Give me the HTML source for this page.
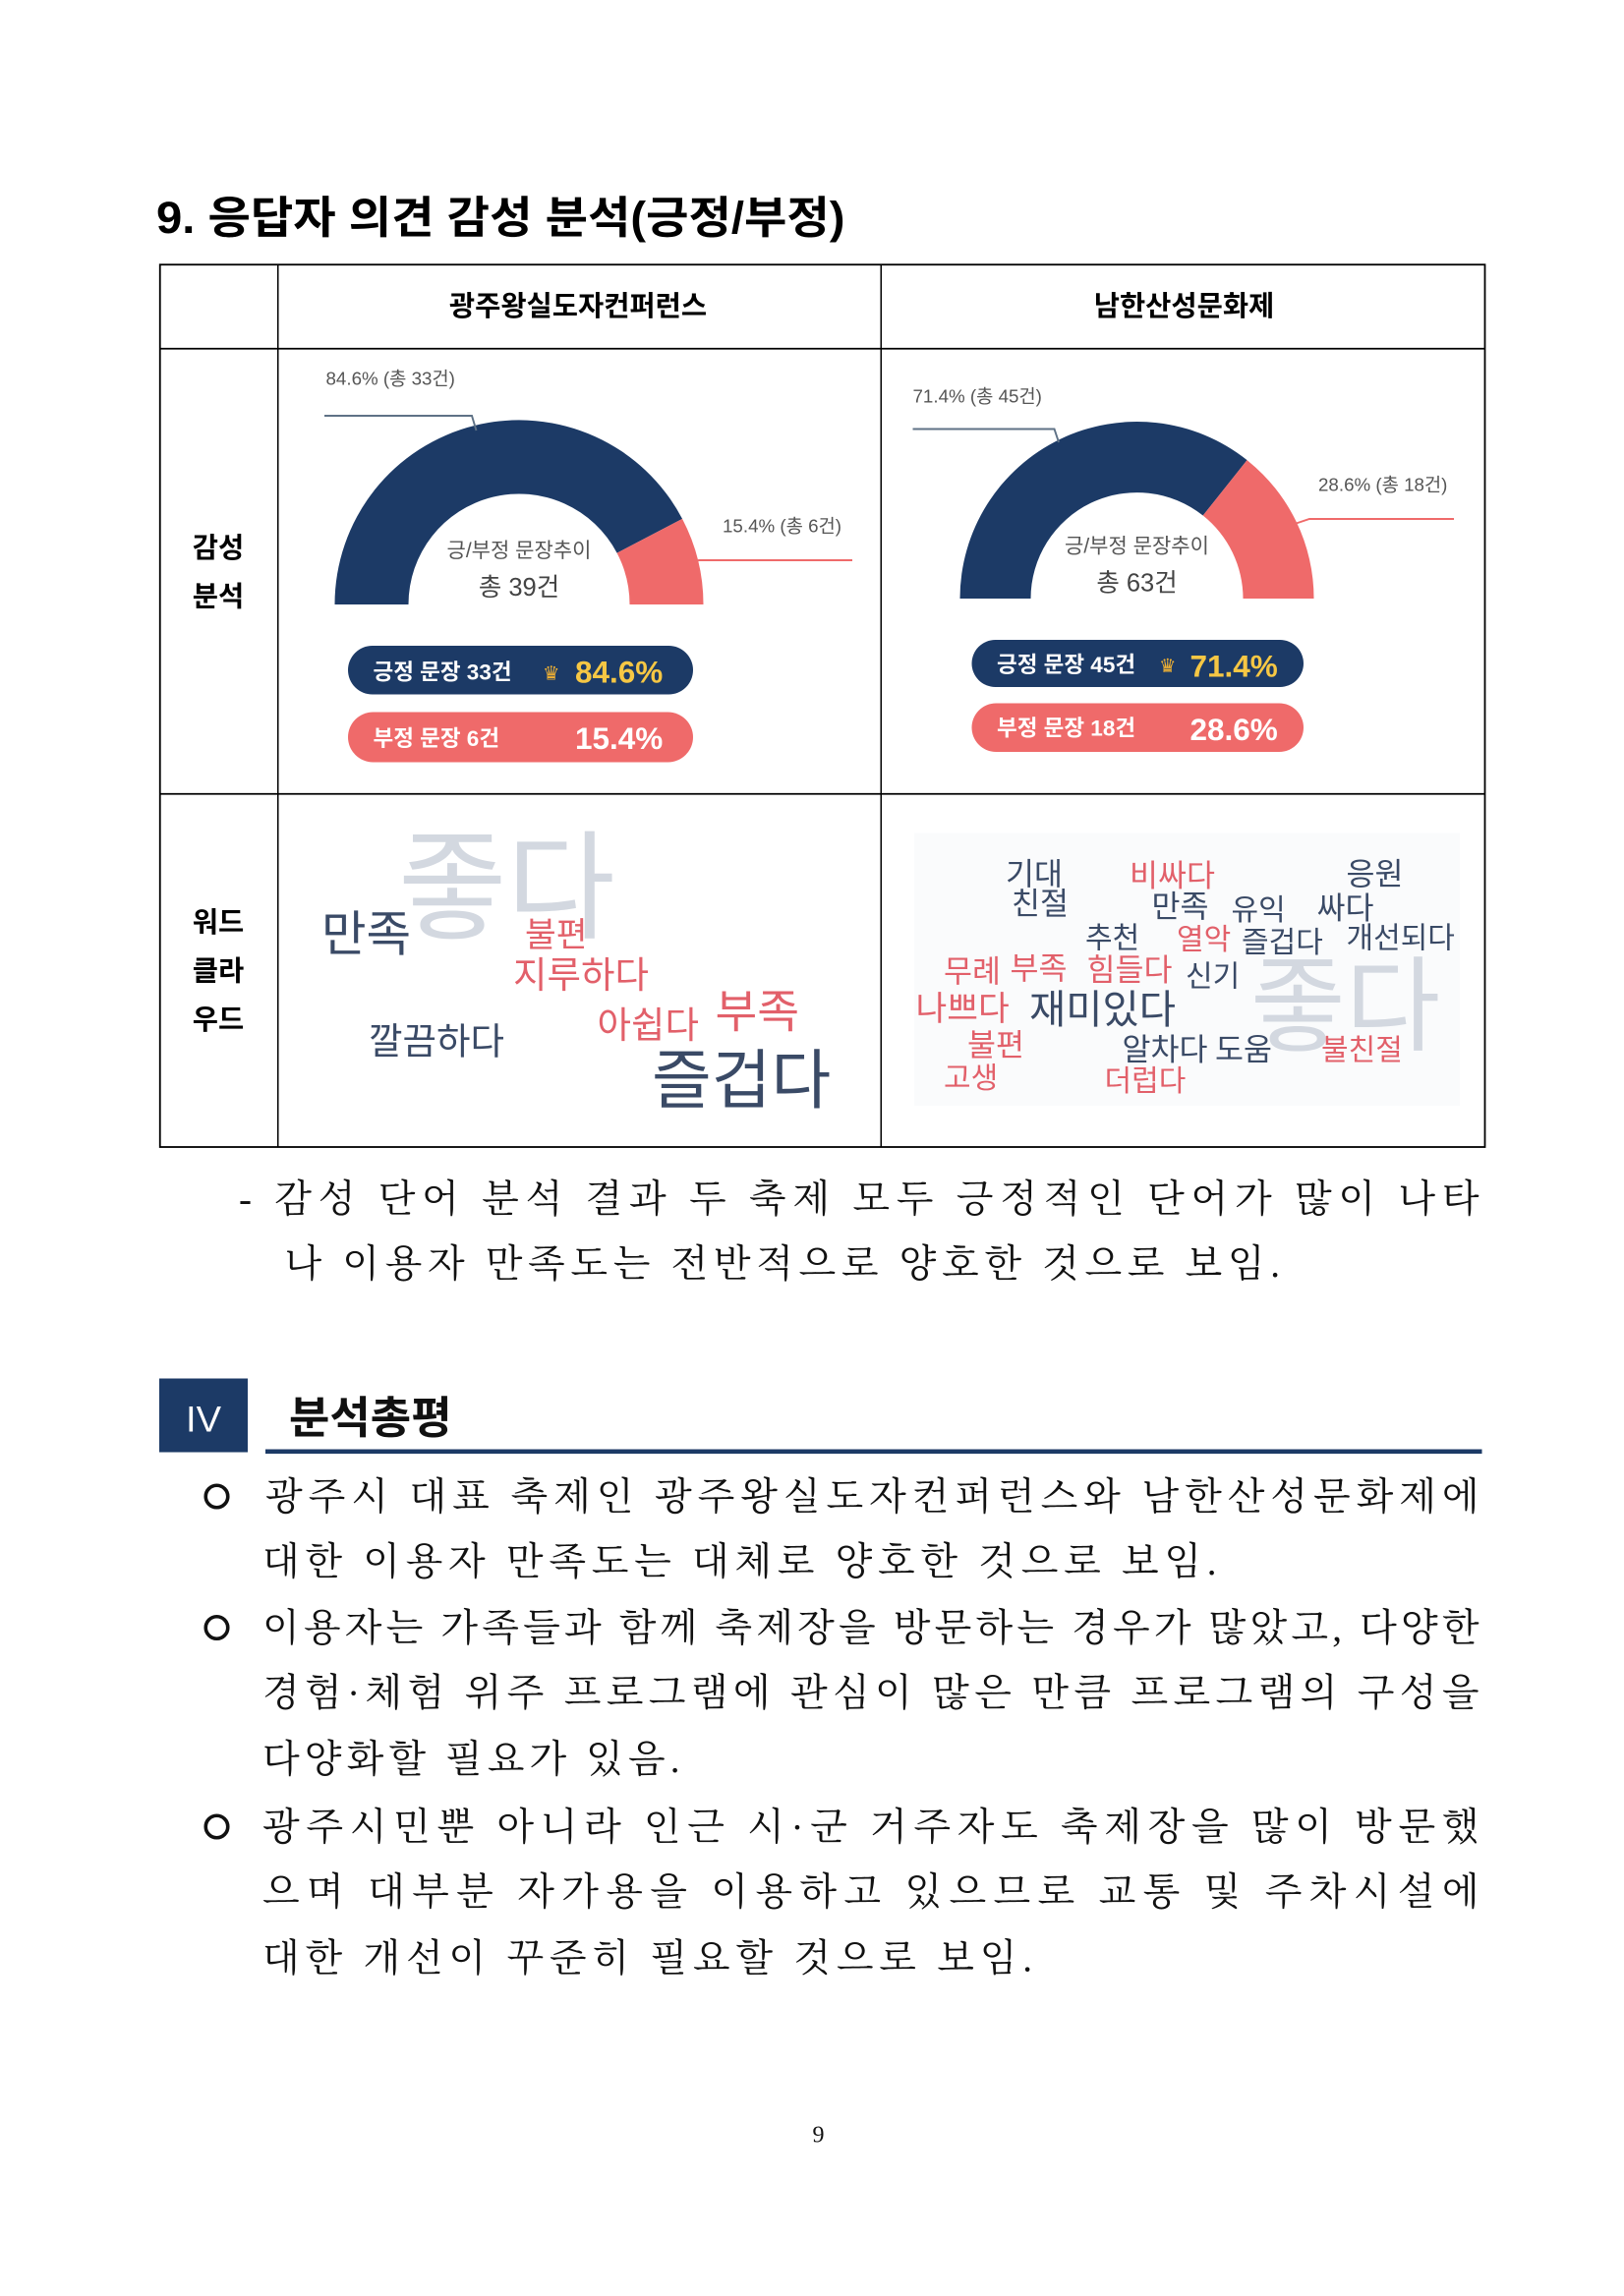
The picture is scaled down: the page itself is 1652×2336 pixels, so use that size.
<!DOCTYPE html>
<html><head><meta charset="utf-8"><style>html,body{margin:0;padding:0;background:#fff}svg{display:block}</style></head>
<body>
<svg width="1652" height="2336" viewBox="0 0 1101.33 1557.33" xmlns="http://www.w3.org/2000/svg">
<g font-family="'Liberation Sans','Noto Sans CJK KR',sans-serif">
<text x="106" y="158" font-size="30" font-weight="bold" textLength="467" lengthAdjust="spacingAndGlyphs">9. 응답자 의견 감성 분석(긍정/부정)</text>
<g stroke="#000" fill="none">
<rect x="108.5" y="179.5" width="898.5" height="598.5" stroke-width="1.2"/>
<line x1="188.5" y1="179" x2="188.5" y2="778" stroke-width="1"/>
<line x1="597.5" y1="179" x2="597.5" y2="778" stroke-width="1"/>
<line x1="108" y1="236.5" x2="1007" y2="236.5" stroke-width="1.2"/>
<line x1="108" y1="538.5" x2="1007" y2="538.5" stroke-width="1.2"/>
</g>
<text x="392" y="214" font-size="19" font-weight="bold" text-anchor="middle">광주왕실도자컨퍼런스</text>
<text x="803" y="214" font-size="19" font-weight="bold" text-anchor="middle">남한산성문화제</text>
<text x="148" y="378" font-size="19" font-weight="bold" text-anchor="middle">감성</text>
<text x="148" y="411" font-size="19" font-weight="bold" text-anchor="middle">분석</text>
<text x="148" y="632" font-size="19" font-weight="bold" text-anchor="middle">워드</text>
<text x="148" y="665" font-size="19" font-weight="bold" text-anchor="middle">클라</text>
<text x="148" y="698" font-size="19" font-weight="bold" text-anchor="middle">우드</text>

<path d="M227,410 A125 125 0 0 1 462.7,351.9 L418.4,375.1 A75 75 0 0 0 277,410 Z" fill="#1c3a66"/>
<path d="M462.7,351.9 A125 125 0 0 1 477,410 L427,410 A75 75 0 0 0 418.4,375.1 Z" fill="#ef6a6a"/>
<polyline points="220,282 320,282 323,292" fill="none" stroke="#5f7286" stroke-width="1.3"/>
<polyline points="466,382 474,380 578,380" fill="none" stroke="#ef6a6a" stroke-width="1.3"/>
<text x="221" y="261" font-size="12.5" fill="#555">84.6% (총 33건)</text>
<text x="490" y="361" font-size="12.5" fill="#555">15.4% (총 6건)</text>
<text x="352" y="378" font-size="14" fill="#555" text-anchor="middle">긍/부정 문장추이</text>
<text x="352" y="404" font-size="17" fill="#444" text-anchor="middle">총 39건</text>
<rect x="236" y="438" width="234" height="33" rx="16.5" fill="#1c3a66"/>
<text x="253" y="461" font-size="15" font-weight="bold" fill="#fff">긍정 문장 33건</text>
<text x="368" y="461" font-size="13" fill="#f2b233">♛</text>
<text x="390" y="463" font-size="21" font-weight="bold" fill="#f6c744">84.6%</text>
<rect x="236" y="483" width="234" height="34" rx="17" fill="#ef6a6a"/>
<text x="253" y="506" font-size="15" font-weight="bold" fill="#fff">부정 문장 6건</text>
<text x="390" y="508" font-size="21" font-weight="bold" fill="#fff">15.4%</text>

<path d="M651,406 A120 120 0 0 1 845.7,312.1 L815.8,349.7 A72 72 0 0 0 699,406 Z" fill="#1c3a66"/>
<path d="M845.7,312.1 A120 120 0 0 1 891,406 L843,406 A72 72 0 0 0 815.8,349.7 Z" fill="#ef6a6a"/>
<polyline points="619,291 715,291 718,300" fill="none" stroke="#5f7286" stroke-width="1.3"/>
<polyline points="879,355 888,352 986,352" fill="none" stroke="#ef6a6a" stroke-width="1.3"/>
<text x="619" y="273" font-size="12.5" fill="#555">71.4% (총 45건)</text>
<text x="894" y="333" font-size="12.5" fill="#555">28.6% (총 18건)</text>
<text x="771" y="375" font-size="14" fill="#555" text-anchor="middle">긍/부정 문장추이</text>
<text x="771" y="401" font-size="17" fill="#444" text-anchor="middle">총 63건</text>
<rect x="659" y="434" width="225" height="32" rx="16" fill="#1c3a66"/>
<text x="676" y="456" font-size="15" font-weight="bold" fill="#fff">긍정 문장 45건</text>
<text x="786" y="456" font-size="13" fill="#f2b233">♛</text>
<text x="807" y="459" font-size="21" font-weight="bold" fill="#f6c744">71.4%</text>
<rect x="659" y="477" width="225" height="33" rx="16.5" fill="#ef6a6a"/>
<text x="676" y="499" font-size="15" font-weight="bold" fill="#fff">부정 문장 18건</text>
<text x="807" y="502" font-size="21" font-weight="bold" fill="#fff">28.6%</text>

<g>
<text x="270" y="630" font-size="80" fill="#d3d8e0">좋다</text>
<text x="218" y="645" font-size="33" fill="#3a4a66">만족</text>
<text x="356" y="642" font-size="23" fill="#e2606a">불편</text>
<text x="348" y="670" font-size="25" fill="#e2606a">지루하다</text>
<text x="250" y="715" font-size="25" fill="#3a4a66">깔끔하다</text>
<text x="405" y="704" font-size="25" fill="#e2606a">아쉽다</text>
<text x="485" y="697" font-size="31" fill="#e2606a">부족</text>
<text x="442" y="748" font-size="44" fill="#3a4a66">즐겁다</text>
</g>
<rect x="620" y="565" width="370" height="185" fill="#fafbfc"/>
<g>
<text x="848" y="707" font-size="70" fill="#d3d8e0">좋다</text>
<text x="682" y="600" font-size="21" fill="#3a4a66">기대</text>
<text x="766" y="601" font-size="21" fill="#e2606a">비싸다</text>
<text x="913" y="600" font-size="21" fill="#3a4a66">응원</text>
<text x="686" y="620" font-size="21" fill="#3a4a66">친절</text>
<text x="781" y="622" font-size="21" fill="#3a4a66">만족</text>
<text x="835" y="624" font-size="20" fill="#3a4a66">유익</text>
<text x="893" y="623" font-size="21" fill="#3a4a66">싸다</text>
<text x="736" y="643" font-size="20" fill="#3a4a66">추천</text>
<text x="798" y="644" font-size="20" fill="#e2606a">열악</text>
<text x="842" y="646" font-size="20" fill="#3a4a66">즐겁다</text>
<text x="913" y="643" font-size="20" fill="#3a4a66">개선되다</text>
<text x="640" y="666" font-size="21" fill="#e2606a">무례</text>
<text x="685" y="664" font-size="21" fill="#e2606a">부족</text>
<text x="737" y="665" font-size="21" fill="#e2606a">힘들다</text>
<text x="804" y="669" font-size="20" fill="#3a4a66">신기</text>
<text x="621" y="692" font-size="23" fill="#e2606a">나쁘다</text>
<text x="698" y="694" font-size="27" fill="#3a4a66">재미있다</text>
<text x="656" y="716" font-size="21" fill="#e2606a">불편</text>
<text x="761" y="719" font-size="21" fill="#3a4a66">알차다</text>
<text x="824" y="719" font-size="21" fill="#3a4a66">도움</text>
<text x="896" y="719" font-size="20" fill="#e2606a">불친절</text>
<text x="640" y="738" font-size="20" fill="#e2606a">고생</text>
<text x="749" y="740" font-size="20" fill="#e2606a">더럽다</text>
</g>
</g>

<g font-family="'Liberation Serif','Noto Serif CJK KR','Noto Serif CJK SC',serif" font-size="26" fill="#111">
<text x="162" y="822" textLength="841" lengthAdjust="spacing">- 감성 단어 분석 결과 두 축제 모두 긍정적인 단어가 많이 나타</text>
<text x="193" y="866" textLength="675" lengthAdjust="spacing">나 이용자 만족도는 전반적으로 양호한 것으로 보임.</text>
</g>
<rect x="108" y="935" width="60" height="50" fill="#1c3a66"/>
<text x="138" y="971" font-family="'Liberation Sans',sans-serif" font-size="25" fill="#fff" text-anchor="middle" textLength="24" lengthAdjust="spacingAndGlyphs">IV</text>
<text x="196" y="972" font-family="'Liberation Sans','Noto Sans CJK KR',sans-serif" font-size="30" font-weight="bold" fill="#111">분석총평</text>
<rect x="180" y="983" width="825" height="3" fill="#1c3a66"/>
<g fill="none" stroke="#111" stroke-width="2.4">
<circle cx="147" cy="1015" r="7.5"/>
<circle cx="147" cy="1104" r="7.5"/>
<circle cx="147" cy="1239" r="7.5"/>
</g>
<g font-family="'Liberation Serif','Noto Serif CJK KR','Noto Serif CJK SC',serif" font-size="26" fill="#111">
<text x="180" y="1024" textLength="823" lengthAdjust="spacing">광주시 대표 축제인 광주왕실도자컨퍼런스와 남한산성문화제에</text>
<text x="178" y="1068" textLength="647" lengthAdjust="spacing">대한 이용자 만족도는 대체로 양호한 것으로 보임.</text>
<text x="178" y="1113" textLength="825" lengthAdjust="spacing">이용자는 가족들과 함께 축제장을 방문하는 경우가 많았고, 다양한</text>
<text x="178" y="1157" textLength="825" lengthAdjust="spacing">경험·체험 위주 프로그램에 관심이 많은 만큼 프로그램의 구성을</text>
<text x="178" y="1202" textLength="283" lengthAdjust="spacing">다양화할 필요가 있음.</text>
<text x="178" y="1248" textLength="825" lengthAdjust="spacing">광주시민뿐 아니라 인근 시·군 거주자도 축제장을 많이 방문했</text>
<text x="178" y="1292" textLength="825" lengthAdjust="spacing">으며 대부분 자가용을 이용하고 있으므로 교통 및 주차시설에</text>
<text x="178" y="1337" textLength="522" lengthAdjust="spacing">대한 개선이 꾸준히 필요할 것으로 보임.</text>
<text x="555" y="1453" font-size="16" text-anchor="middle">9</text>
</g>
</svg>
</body></html>
